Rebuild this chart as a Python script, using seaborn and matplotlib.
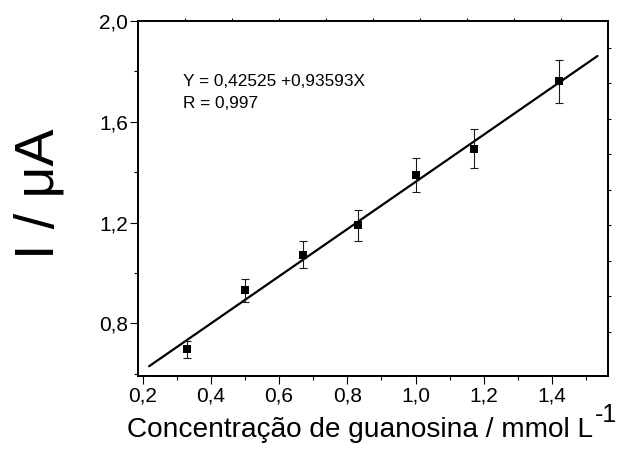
import numpy as np
import pandas as pd
import matplotlib
matplotlib.use("Agg")
import matplotlib.pyplot as plt
import seaborn as sns
from matplotlib.ticker import MultipleLocator

# ---- data ----
conc = [0.33, 0.50, 0.67, 0.83, 1.00, 1.17, 1.42]
current = [0.697, 0.931, 1.073, 1.189, 1.388, 1.493, 1.759]
err = [0.035, 0.047, 0.055, 0.061, 0.068, 0.076, 0.087]
intercept = 0.42525
slope = 0.93593
fit_x = [0.219, 1.533]

x_ticks = [0.2, 0.4, 0.6, 0.8, 1.0, 1.2, 1.4]
x_tick_labels = ["0,2", "0,4", "0,6", "0,8", "1,0", "1,2", "1,4"]
y_ticks = [0.8, 1.2, 1.6, 2.0]
y_tick_labels = ["0,8", "1,2", "1,6", "2,0"]

eq_text = "Y = 0,42525 +0,93593X"
r_text = "R = 0,997"
x_label = "Concentração de guanosina / mmol L"
x_label_sup = "-1"
y_label = "I / μA"

# ---- style ----
sns.set_theme(style="ticks")
plt.rcParams["font.family"] = ["Liberation Sans", "DejaVu Sans"]

W, H = 618, 449
fig = plt.figure(figsize=(W / 100, H / 100), dpi=100)
left, right, top, bottom = 137.5, 607.7, 20.7, 375.5
ax = fig.add_axes([left / W, 1 - bottom / H, (right - left) / W, (bottom - top) / H])

df = pd.DataFrame({"conc": conc, "current": current, "err": err})
fit_df = pd.DataFrame({"x": fit_x, "y": [intercept + slope * v for v in fit_x]})

sns.lineplot(data=fit_df, x="x", y="y", ax=ax, color="black", linewidth=1.6, zorder=2)
ax.errorbar(df["conc"], df["current"], yerr=df["err"], fmt="none", ecolor="#1a1a1a",
            elinewidth=0.8, capsize=3, capthick=0.8, zorder=3)
sns.scatterplot(data=df, x="conc", y="current", marker="s", s=38, color="black",
                linewidth=0, ax=ax, zorder=4)

ax.set_xlim(0.185, 1.563)
ax.set_ylim(0.5935, 2.0)
ax.set_xticks(x_ticks, labels=x_tick_labels)
ax.set_yticks(y_ticks, labels=y_tick_labels)
ax.xaxis.set_minor_locator(MultipleLocator(0.1))
ax.yaxis.set_minor_locator(MultipleLocator(0.2))
ax.tick_params(which="major", direction="out", length=5.5, width=0.8, labelsize=15, colors="black")
ax.tick_params(axis="x", which="major", pad=2.5)
ax.tick_params(axis="y", which="major", pad=1.2)
ax.tick_params(which="minor", direction="out", length=3, width=0.8, colors="black")
for sp in ax.spines.values():
    sp.set_visible(True)
    sp.set_linewidth(1.1)
    sp.set_color("black")

# top and right independent tick marks
ax_top = ax.twiny()
ax_top.set_xlim(0, 1)
ax_top.set_xticks(np.arange(1, 10) / 10)
ax_top.tick_params(axis="x", direction="out", length=2.5, width=0.8, labeltop=False, colors="black")
ax_right = ax.twinx()
ax_right.set_ylim(0, 1)
ax_right.set_yticks(0.923 - np.arange(0, 9) / 10)
ax_right.tick_params(axis="y", direction="out", length=2.5, width=0.8, labelright=False, colors="black")
for a in (ax_top, ax_right):
    for sp in a.spines.values():
        sp.set_linewidth(1.1)
        sp.set_color("black")

# annotation
ax.text(0.319, 1.743, eq_text, fontsize=12.4, va="baseline", ha="left", color="black")
ax.text(0.319, 1.655, r_text, fontsize=12.4, va="baseline", ha="left", color="black")

# labels
ax.set_xlabel(x_label, fontsize=20.2, color="black")
ax.xaxis.label.set_va("baseline")
ax.xaxis.set_label_coords(0.4735, (bottom - 437) / (bottom - top))
ax.set_ylabel(y_label, fontsize=40, color="black")
ax.yaxis.label.set_va("baseline")
ax.yaxis.set_label_coords((54 - left) / (right - left), (bottom - 193.5) / (bottom - top))

fig.canvas.draw()
bb = ax.xaxis.label.get_window_extent()
fig.text((bb.x1 + 2) / W, 1 - 422 / H, x_label_sup, fontsize=18, va="baseline", ha="left", color="black")

fig.savefig("out.png", dpi=100)
